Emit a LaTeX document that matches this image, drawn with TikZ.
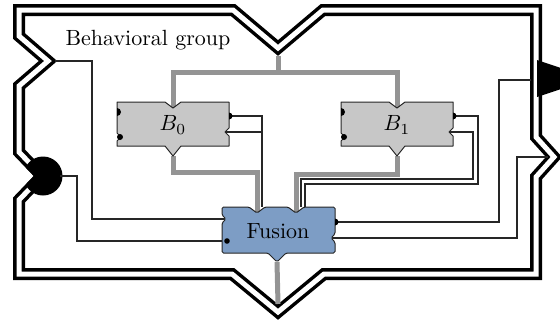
\documentclass[tikz,border=0pt]{standalone}
\usetikzlibrary{calc}
\begin{document}
\begin{tikzpicture}[x=1pt,y=-1pt,
  wire/.style={line width=1.1pt, draw=black!85},
  busline/.style={line width=5pt, draw=black!42},
  boundary/.style={line width=3.5pt, double=white, double distance=5pt, draw=black, line join=miter},
  blockbox/.style={draw=black!85, line width=1pt, fill=black!22, line join=round},
  fusionbox/.style={draw=black!85, line width=1pt, fill={rgb,255:red,125;green,157;blue,197}, rounded corners=1.5pt},
  lbl/.style={font=\normalsize, inner sep=0pt, scale=2.2},
]
\useasboundingbox (0,0) rectangle (560,322);

% ---- group boundary ----
\draw[boundary] (19,10) -- (233,10) -- (278,48) -- (323,10) -- (536,10) -- (536,137)
  -- (554,157) -- (536,177) -- (536,274) -- (324,274) -- (278,312) -- (232,274)
  -- (19,274) -- (19,200) -- (42,176) -- (19,152) -- (19,86) -- (48,61) -- (19,36) -- cycle;

% group ports
\begin{scope}
  \clip (34,176) -- (4,145) -- (100,145) -- (100,207) -- (4,207) -- cycle;
  \fill (43,176) circle (19.5pt);
\end{scope}
\fill (537,60) -- (561,68) -- (561,89) -- (537,97) -- cycle;

\coordinate (gin1) at (55,61);
\coordinate (gin2) at (60,176);
\coordinate (gout) at (531,80);
\coordinate (gin3) at (548,157);
\coordinate (gtop) at (278,56);
\coordinate (gbot) at (278,304);

\node[lbl] (grouplbl) at (148,40) {Behavioral group};

% ---- port coordinates of blocks ----
\coordinate (b0tin) at (173,108);
\coordinate (b0bout) at (173,156);
\coordinate (b0rout) at (229,116);
\coordinate (b0rin) at (225,132);
\coordinate (b1tin) at (397,108);
\coordinate (b1bout) at (397,156);
\coordinate (b1rout) at (453,116);
\coordinate (b1rin) at (449,132);
\coordinate (ftin0) at (257,213);
\coordinate (ftin1) at (296,213);
\coordinate (ftw0) at (262,207);
\coordinate (ftw1) at (301,207);
\coordinate (ftw2) at (305,207);
\coordinate (fbout) at (277,262);
\coordinate (fin1) at (226,219);
\coordinate (fin2) at (227,241);
\coordinate (fout1) at (335,222);
\coordinate (fin3) at (331,238);

% ---- gray data lines ----
\draw[busline] (gtop) -- (278,72) -| (b0tin);
\draw[busline] (278,72) -| (b1tin);
\draw[busline] (b0bout) -- (173,172) -| (ftin0);
\draw[busline] (b1bout) -- (397,174) -| (ftin1);
\draw[busline] (fbout) -- (gbot);

% ---- thin wires ----
\draw[wire] (gin1) -| (92,219) -- (fin1);
\draw[wire] (gin2) -| (77,241) -- (fin2);
\draw[wire] (fout1) -| (499,80) -- (gout);
\draw[wire] (fin3) -| (517,157) -- (gin3);
\draw[wire] (b0rout) -| (ftw0);
\draw[wire] (b0rin) -| (ftw0);
\draw[wire] (b1rout) -- (478,116) -- (478,184) -| (ftw2);
\draw[wire] (b1rin) -- (473,132) -- (473,179) -| (ftw1);

% ---- blocks ----
\foreach \nm/\dx/\tx in {b0/0/{$B_0$}, b1/224/{$B_1$}} {
  \begin{scope}[xshift=\dx pt]
    \path[blockbox] (117,102) -- (165,102) -- (173,108) -- (181,102) -- (229,102) -- (229,128)
      -- (225,132) -- (229,136) -- (229,146) -- (181,146) -- (173,156) -- (165,146)
      -- (117,146) -- (117,141) -- (121,137) -- (117,133) -- cycle;
    \fill (117,108) arc[start angle=90, end angle=-90, radius=4pt] -- cycle;
    \fill (120,137) circle (3pt);
    \fill (229,112.5) arc[start angle=90, end angle=-90, radius=3.5pt] -- cycle;
    \node[lbl] (\nm) at (173,125) {\tx};
  \end{scope}
}

\path[fusionbox] (222,207) -- (249,207) -- (257,213) -- (265,207) -- (288,207) -- (296,213)
  -- (304,207) -- (335,207) -- (335,234) -- (331,238) -- (335,242) -- (335,253)
  -- (286,253) -- (277,262) -- (268,253) -- (222,253) -- (222,223) -- (226,219)
  -- (222,215) -- cycle;
\fill (fin2) circle (2.8pt);
\fill (335,218.5) arc[start angle=90, end angle=-90, radius=3.5pt] -- cycle;
\node[lbl] (fusion) at (278,231) {Fusion};
\end{tikzpicture}
\end{document}
